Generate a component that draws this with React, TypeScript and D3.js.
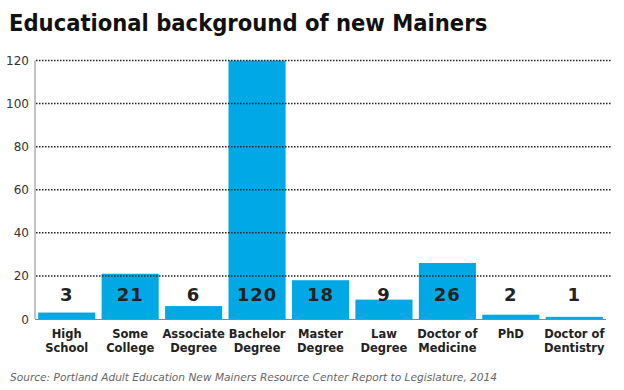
import React from "react";
import * as d3 from "d3";

const categories = [
  ["High", "School"],
  ["Some", "College"],
  ["Associate", "Degree"],
  ["Bachelor", "Degree"],
  ["Master", "Degree"],
  ["Law", "Degree"],
  ["Doctor of", "Medicine"],
  ["PhD", ""],
  ["Doctor of", "Dentistry"],
];
const values = [3, 21, 6, 120, 18, 9, 26, 2, 1];
const yTicks = [0, 20, 40, 60, 80, 100, 120];
const title = "Educational background of new Mainers";
const source = "Source: Portland Adult Education New Mainers Resource Center Report to Legislature, 2014";

export default function App() {
  const W = 624, H = 390;
  const x = d3.scaleBand<number>().domain(d3.range(values.length)).range([35, 606]).paddingInner(0.1).paddingOuter(0.05);
  const y = d3.scaleLinear().domain([0, 120]).range([319, 60.5]);
  const font = "Verdana, 'DejaVu Sans', sans-serif";
  return (
    <svg width={W} height={H} style={{ position: "absolute", left: 0, top: 0, background: "#fff" }} fontFamily={font}>
      <text x={9} y={31} fontSize={23.5} fontWeight="bold" fill="#111" fontFamily="'DejaVu Sans Condensed', 'DejaVu Sans', sans-serif">{title}</text>
      {values.map((v, i) => (
        <rect key={i} x={x(i)} y={y(v)} width={x.bandwidth()} height={y(0) - y(v)} fill="#00a9e6" />
      ))}
      {yTicks.filter(t => t > 0).map(t => (
        <line key={t} x1={36} x2={612} y1={y(t)} y2={y(t)} stroke="#222" strokeWidth={1.5} strokeDasharray="1.5 1.5" />
      ))}
      <line x1={35} x2={35} y1={y(120)} y2={y(0)} stroke="#888" strokeWidth={1} />
      <line x1={35} x2={606} y1={y(0) + 0.5} y2={y(0) + 0.5} stroke="#888" strokeWidth={1} />
      {yTicks.map(t => (
        <text key={t} x={29} y={y(t) + 4.5} fontSize={12} fill="#333" textAnchor="end">{t}</text>
      ))}
      {values.map((v, i) => (
        <text key={i} x={x(i)! + x.bandwidth() / 2} y={301} fontSize={18} fontWeight="bold" fill="#222" textAnchor="middle" letterSpacing={1}>{v}</text>
      ))}
      {categories.map((c, i) => (
        <text key={i} x={x(i)! + x.bandwidth() / 2} fontSize={11.5} fontWeight="bold" fill="#222" textAnchor="middle">
          <tspan x={x(i)! + x.bandwidth() / 2} y={338}>{c[0]}</tspan>
          <tspan x={x(i)! + x.bandwidth() / 2} y={352}>{c[1]}</tspan>
        </text>
      ))}
      <text x={10} y={381} fontSize={10.6} fontStyle="italic" fill="#666">{source}</text>
    </svg>
  );
}
